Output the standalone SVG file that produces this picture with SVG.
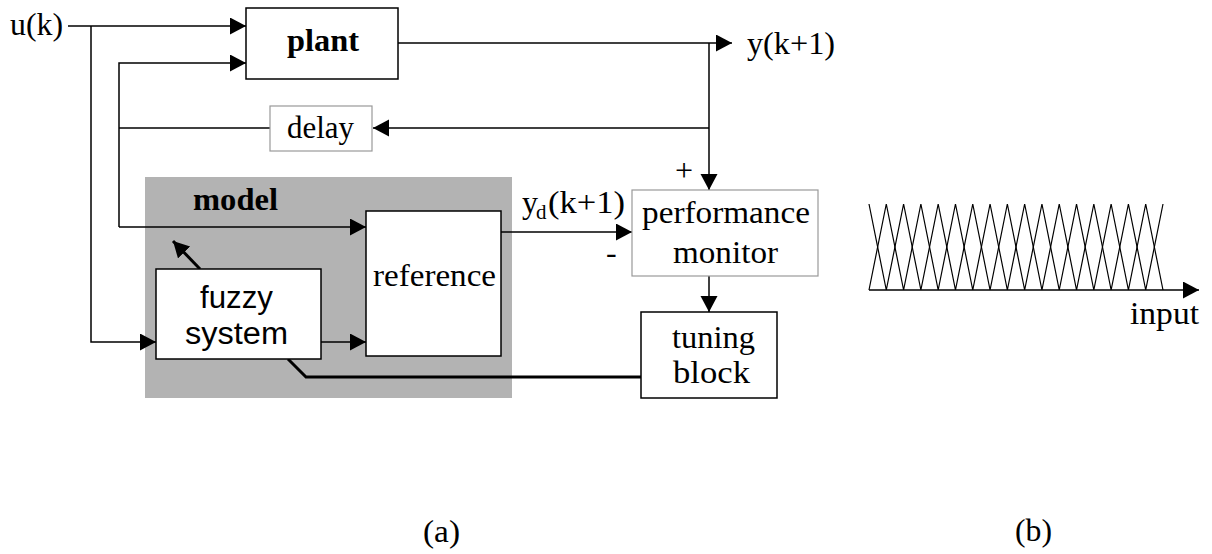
<svg xmlns="http://www.w3.org/2000/svg" width="1212" height="554" viewBox="0 0 1212 554">
<style>
.t{font-family:"Liberation Serif","Times New Roman",Times,serif;font-size:32px;fill:#000}
.b{font-weight:bold}
.s{font-family:"Liberation Sans",Arial,sans-serif;font-size:31px;fill:#000}
.ln{fill:none;stroke:#000;stroke-width:1.5}
.thk{fill:none;stroke:#000;stroke-width:3}
.box{fill:#fff;stroke:#000;stroke-width:1.5}
.gbox{fill:#fff;stroke:#999;stroke-width:1.2}
.mf{fill:none;stroke:#000;stroke-width:1.2}
</style>
<defs>
<marker id="ah" markerUnits="userSpaceOnUse" markerWidth="17" markerHeight="18" refX="16" refY="8.5" orient="auto" viewBox="0 0 17 18">
<path d="M0,0 L16,8.5 L0,17 z" fill="#000"/>
</marker>
</defs>
<rect width="1212" height="554" fill="#fff"/>

<g id="model">
<rect x="145" y="177" width="367" height="221" fill="#b3b3b3"/>
<text class="t b" x="193" y="210" textLength="85" lengthAdjust="spacingAndGlyphs">model</text>
</g>

<g id="connectors">
<path class="ln" d="M68,26 H246" marker-end="url(#ah)"/>
<path class="ln" d="M91,26 V342 H156" marker-end="url(#ah)"/>
<path class="ln" d="M270,128 H119"/>
<path class="ln" d="M119,227 V63 H246" marker-end="url(#ah)"/>
<path class="ln" d="M119,227 H366" marker-end="url(#ah)"/>
<path class="ln" d="M398,43 H732" marker-end="url(#ah)"/>
<path class="ln" d="M709,43 V190" marker-end="url(#ah)"/>
<path class="ln" d="M709,128 H373" marker-end="url(#ah)"/>
<path class="ln" d="M501,232 H632" marker-end="url(#ah)"/>
<path class="ln" d="M709,276 V312" marker-end="url(#ah)"/>
<path class="ln" d="M321,342 H366" marker-end="url(#ah)"/>
<path class="thk" d="M288,359 L306,377 H641"/>
<path class="thk" d="M200,269 L173,241" marker-end="url(#ah)"/>
</g>

<g id="plant">
<rect class="box" x="246" y="8" width="152" height="71"/>
<text class="t b" x="287" y="51" textLength="72" lengthAdjust="spacingAndGlyphs">plant</text>
</g>

<g id="delay">
<rect class="gbox" x="270" y="106" width="102" height="45"/>
<text class="t" x="287" y="138" textLength="67" lengthAdjust="spacingAndGlyphs">delay</text>
</g>

<g id="reference">
<rect class="box" x="366" y="211" width="135" height="145"/>
<text class="t" x="373" y="286" textLength="123" lengthAdjust="spacingAndGlyphs">reference</text>
</g>

<g id="fuzzy-system">
<rect class="box" x="156" y="269" width="165" height="90"/>
<text class="s" x="200" y="308" textLength="73" lengthAdjust="spacingAndGlyphs">fuzzy</text>
<text class="s" x="185" y="344" textLength="103" lengthAdjust="spacingAndGlyphs">system</text>
</g>

<g id="performance-monitor">
<rect class="gbox" x="632" y="190" width="186" height="86"/>
<text class="t" x="642" y="223" textLength="168" lengthAdjust="spacingAndGlyphs">performance</text>
<text class="t" x="673" y="263" textLength="105" lengthAdjust="spacingAndGlyphs">monitor</text>
</g>

<g id="tuning-block">
<rect class="box" x="641" y="312" width="136" height="86"/>
<text class="t" x="672" y="348" textLength="83" lengthAdjust="spacingAndGlyphs">tuning</text>
<text class="t" x="673" y="383" textLength="77" lengthAdjust="spacingAndGlyphs">block</text>
</g>

<g id="labels">
<text class="t" x="10" y="35" textLength="53" lengthAdjust="spacingAndGlyphs">u(k)</text>
<text class="t" x="747" y="54" textLength="88" lengthAdjust="spacingAndGlyphs">y(k+1)</text>
<text class="t" x="675" y="181">+</text>
<text class="t" x="606" y="263">-</text>
<text class="t" x="522" y="213">y</text>
<text class="t" x="536" y="219" style="font-size:21px">d</text>
<text class="t" x="548" y="213" textLength="77" lengthAdjust="spacingAndGlyphs">(k+1)</text>
<text class="t" x="1130" y="324" textLength="69" lengthAdjust="spacingAndGlyphs">input</text>
<text class="t" x="423" y="542" textLength="37" lengthAdjust="spacingAndGlyphs">(a)</text>
<text class="t" x="1015" y="541" textLength="37" lengthAdjust="spacingAndGlyphs">(b)</text>
</g>

<g id="membership">
<path class="ln" d="M869,290 H1199" marker-end="url(#ah)"/>
<polyline class="mf" points="869,204 886.29,290 903.59,204 920.88,290 938.18,204 955.47,290 972.76,204 990.06,290 1007.35,204 1024.65,290 1041.94,204 1059.24,290 1076.53,204 1093.82,290 1111.12,204 1128.41,290 1145.71,204 1163,290"/>
<polyline class="mf" points="869,290 886.29,204 903.59,290 920.88,204 938.18,290 955.47,204 972.76,290 990.06,204 1007.35,290 1024.65,204 1041.94,290 1059.24,204 1076.53,290 1093.82,204 1111.12,290 1128.41,204 1145.71,290 1163,204"/>
</g>
</svg>
